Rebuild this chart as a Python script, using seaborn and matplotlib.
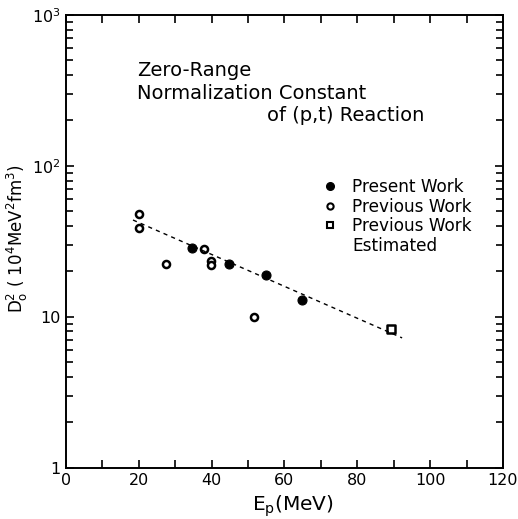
import numpy as np
import pandas as pd
import matplotlib
matplotlib.use("Agg")
import matplotlib.pyplot as plt
import seaborn as sns
from matplotlib.lines import Line2D
from matplotlib.ticker import FixedLocator, FixedFormatter, LogLocator, NullFormatter

# Data
present_x = [34.6, 44.7, 54.9, 64.8]
present_y = [28.6, 22.5, 18.8, 13.0]

previous_x = [20.0, 20.0, 27.4, 37.8, 39.8, 39.8, 51.7]
previous_y = [48.0, 39.0, 22.5, 28.0, 23.4, 22.2, 9.9]

estimated_x = [89.2]
estimated_y = [8.3]

fit_x = [18.4, 92.3]
fit_y = [43.8, 7.25]

x_ticks = [0, 20, 40, 60, 80, 100, 120]
y_ticks = [1, 10, 100, 1000]
y_tick_labels = ["1", "10", "$10^2$", "$10^3$"]

present = pd.DataFrame({"Ep": present_x, "D2": present_y})
previous = pd.DataFrame({"Ep": previous_x, "D2": previous_y})
estimated = pd.DataFrame({"Ep": estimated_x, "D2": estimated_y})
fit = pd.DataFrame({"Ep": fit_x, "D2": fit_y})

sns.set_style("ticks", {"text.color": "black", "axes.labelcolor": "black",
                        "xtick.color": "black", "ytick.color": "black",
                        "axes.edgecolor": "black"})
plt.rcParams["font.family"] = ["DejaVu Sans"]
plt.rcParams["mathtext.fontset"] = "dejavusans"

fig = plt.figure(figsize=(5.18, 5.19), dpi=100)
ax = fig.add_axes([0.1274, 0.0988, 0.8436, 0.8723])

# fitted trend line
sns.lineplot(data=fit, x="Ep", y="D2", ax=ax, color="black", linestyle=(0, (3, 3)),
             linewidth=1.0)

sns.scatterplot(data=present, x="Ep", y="D2", ax=ax, marker="o", s=42,
                color="black", edgecolor="black", linewidth=0.8)
sns.scatterplot(data=previous, x="Ep", y="D2", ax=ax, marker="o", s=26,
                facecolor="white", edgecolor="black", linewidth=1.8)
sns.scatterplot(data=estimated, x="Ep", y="D2", ax=ax, marker="s", s=26,
                facecolor="white", edgecolor="black", linewidth=1.8)

ax.set_yscale("log")
ax.set_xlim(0, 120)
ax.set_ylim(1, 1000)

ax.xaxis.set_major_locator(FixedLocator(x_ticks))
ax.xaxis.set_minor_locator(FixedLocator(np.arange(10, 120, 10)))
ax.yaxis.set_major_locator(FixedLocator(y_ticks))
ax.yaxis.set_major_formatter(FixedFormatter(y_tick_labels))
ax.yaxis.set_minor_locator(LogLocator(base=10, subs=np.arange(2, 10)))
ax.yaxis.set_minor_formatter(NullFormatter())

ax.tick_params(which="both", direction="in", top=True, right=True,
               width=1.2, labelsize=11.5, pad=4)
ax.tick_params(which="major", length=6)
ax.tick_params(which="minor", length=6)
ax.tick_params(axis="y", which="minor", length=5)
for sp in ax.spines.values():
    sp.set_linewidth(1.4)
    sp.set_visible(True)

ax.set_xlabel("E$_\\mathregular{p}$(MeV)", fontsize=14.5)
ax.xaxis.set_label_coords(0.52, -0.058)
ax.set_ylabel("D$_\\mathregular{o}^\\mathregular{2}$ ( 10$^\\mathregular{4}$MeV$^\\mathregular{2}$fm$^\\mathregular{3}$)",
              fontsize=12)
ax.yaxis.set_label_coords(-0.082, 0.505)

# title block
ax.text(0.1625, 0.8785, "Zero-Range", transform=ax.transAxes, fontsize=14, va="center")
ax.text(0.1625, 0.8277, "Normalization Constant", transform=ax.transAxes, fontsize=14,
        va="center")
ax.text(0.46, 0.779, "of (p,t) Reaction", transform=ax.transAxes, fontsize=14,
        va="center", ha="left")

handles = [
    Line2D([], [], marker="o", linestyle="none", markerfacecolor="black",
           markeredgecolor="black", markersize=5.5),
    Line2D([], [], marker="o", linestyle="none", markerfacecolor="white",
           markeredgecolor="black", markersize=4.5, markeredgewidth=1.5),
    Line2D([], [], marker="s", linestyle="none", markerfacecolor="white",
           markeredgecolor="black", markersize=4.5, markeredgewidth=1.5),
    Line2D([], [], linestyle="none"),
]
labels = ["Present Work", "Previous Work", "Previous Work", "Estimated"]
ax.legend(handles, labels, loc="upper left", bbox_to_anchor=(0.585, 0.64),
          frameon=False, fontsize=12.2, handlelength=1.0, handletextpad=0.82,
          labelspacing=0.1, borderaxespad=0, borderpad=0)

fig.savefig("out.png", dpi=100)
